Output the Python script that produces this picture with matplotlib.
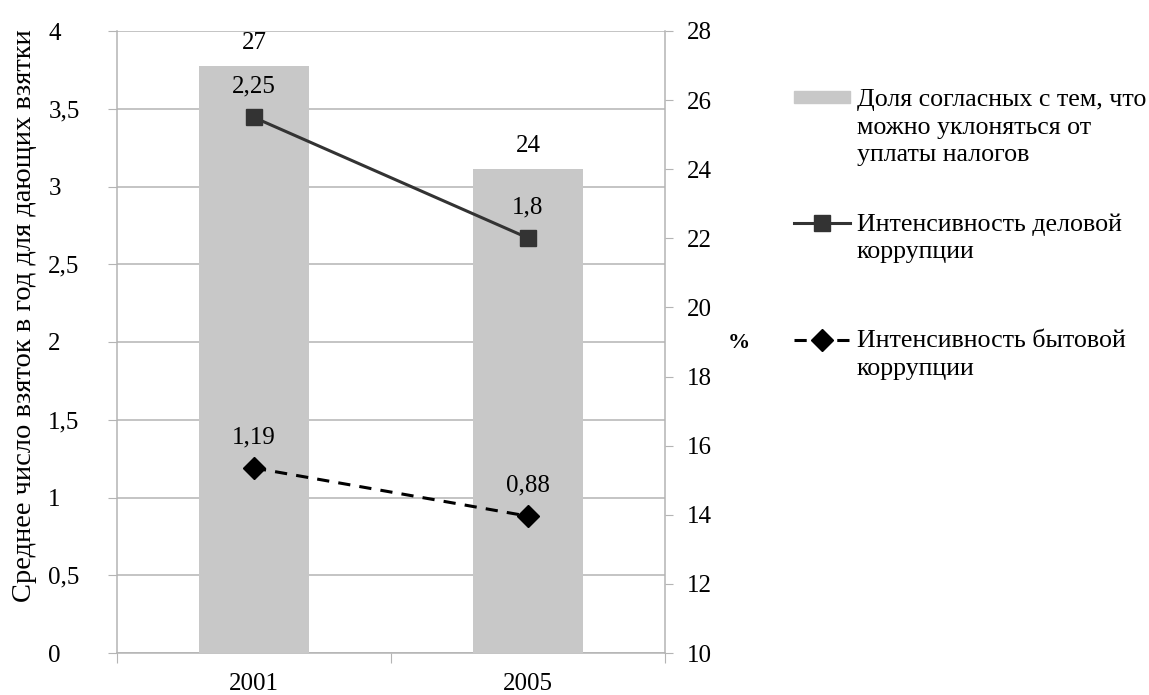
import numpy as np
import matplotlib
matplotlib.use('Agg')
import matplotlib.pyplot as plt
from matplotlib.lines import Line2D
from matplotlib.patches import Rectangle

years = ['2001', '2005']
tax_share = [27, 24]          # доля согласных, %
business = [2.25, 1.8]        # деловая коррупция
household = [1.19, 0.88]      # бытовая коррупция

left_ticks = [0, 0.5, 1, 1.5, 2, 2.5, 3, 3.5, 4]
left_labels = ['0', '0,5', '1', '1,5', '2', '2,5', '3', '3,5', '4']
right_ticks = list(range(10, 29, 2))
right_labels = [str(t) for t in right_ticks]

BAR = '#c8c8c8'
GRID = '#b4b4b4'
DARK = '#333333'
FONT = 'Liberation Serif'
FS = 18
LEG_FS = 18.7


def fmt(v):
    return ('%g' % v).replace('.', ',')


plt.rcParams['font.family'] = FONT
plt.rcParams['font.size'] = FS

W, H = 1149, 695
fig = plt.figure(figsize=(W / 100, H / 100), dpi=100)


def fx(px):
    return px / W


def fy(py):
    return 1 - py / H


ax = fig.add_axes([fx(117), fy(653), fx(665) - fx(117), fy(31) - fy(653)])
x = np.arange(len(years))
ax.set_xlim(-0.5, 1.5)
ax.set_ylim(0, 4)
ax.set_yticks(left_ticks)
ax.set_yticklabels(left_labels, ha='left', family=FONT, fontsize=FS)
ax.tick_params(axis='y', length=6.5, pad=43, color=GRID)
ax.grid(axis='y', color=GRID, lw=1.1)
ax.set_axisbelow(True)

ax.set_xticks([-0.5, 0.5, 1.5])
ax.set_xticklabels([])
ax.tick_params(axis='x', which='major', length=7, color=GRID)
ax.set_xticks(x, minor=True)
ax.set_xticklabels(years, minor=True, family=FONT, fontsize=FS)
ax.tick_params(axis='x', which='minor', length=0, pad=14.5)

for s in ['top', 'right']:
    ax.spines[s].set_visible(False)
for s in ['left', 'bottom']:
    ax.spines[s].set_color(GRID)
    ax.spines[s].set_linewidth(1.1)

ax.set_ylabel('Среднее число взяток в год для дающих взятки', family=FONT, fontsize=20.5)
ax.yaxis.set_label_coords(-0.146, 0.543)

# столбцы - правая шкала, %
axr = ax.twinx()
axr.set_ylim(10, 28)
axr.set_yticks(right_ticks)
axr.set_yticklabels(right_labels, family=FONT, fontsize=FS)
axr.tick_params(axis='y', length=6, pad=10, color=GRID)
bars = axr.bar(x, tax_share, width=0.4, bottom=0, color=BAR)
for xi, v in zip(x, tax_share):
    axr.annotate(fmt(v), (xi, v), xytext=(0, 16.5), textcoords='offset points',
                 ha='center', va='center', family=FONT, fontsize=FS)
for s in ['top', 'left', 'bottom']:
    axr.spines[s].set_visible(False)
axr.spines['right'].set_color(GRID)
axr.spines['right'].set_linewidth(1.1)
axr.set_ylabel('%', rotation=0, fontweight='bold', fontsize=16, family=FONT)
axr.yaxis.set_label_coords(1.135, 0.498)
axr.yaxis.label.set(ha='center', va='center')

# бытовая коррупция - по левой шкале
axd = ax.twinx()
axd.set_ylim(ax.get_ylim())
axd.plot(x, household, color='black', lw=2.2, dashes=(4, 3),
         marker='D', ms=11, zorder=3)
for xi, v in zip(x, household):
    axd.annotate(fmt(v), (xi, v), xytext=(0, 22), textcoords='offset points',
                 ha='center', va='center', family=FONT, fontsize=FS)

# деловая коррупция - своя шкала
axb = ax.twinx()
axb.set_ylim(0.25, 2.573)
axb.plot(x, business, color=DARK, lw=2.2, marker='s', ms=12, zorder=3)
for xi, v in zip(x, business):
    axb.annotate(fmt(v), (xi, v), xytext=(0, 22), textcoords='offset points',
                 ha='center', va='center', family=FONT, fontsize=FS)

for a in (axd, axb):
    a.axis('off')

# легенда
fig.add_artist(Rectangle((fx(794), fy(103)), fx(850) - fx(794), fy(91) - fy(103),
                         transform=fig.transFigure, color=BAR))
fig.text(fx(857), fy(89), 'Доля согласных с тем, что\nможно уклоняться от\nуплаты налогов',
         va='top', ha='left', linespacing=1.33, family=FONT, fontsize=LEG_FS)

fig.add_artist(Line2D([fx(794), fx(850)], [fy(223)] * 2, color=DARK, lw=2.2,
                      transform=fig.transFigure))
fig.add_artist(Line2D([fx(822)], [fy(223)], color=DARK, marker='s', ms=12,
                      transform=fig.transFigure))
fig.text(fx(857), fy(213), 'Интенсивность деловой\nкоррупции',
         va='top', ha='left', linespacing=1.33, family=FONT, fontsize=LEG_FS)

fig.add_artist(Line2D([fx(794), fx(850)], [fy(340)] * 2, color='black', lw=2.2,
                      dashes=(4, 3), transform=fig.transFigure))
fig.add_artist(Line2D([fx(822)], [fy(340)], color='black', marker='D', ms=11,
                      transform=fig.transFigure))
fig.text(fx(857), fy(330), 'Интенсивность бытовой\nкоррупции',
         va='top', ha='left', linespacing=1.33, family=FONT, fontsize=LEG_FS)

fig.savefig('out.png', dpi=100, facecolor='white')
